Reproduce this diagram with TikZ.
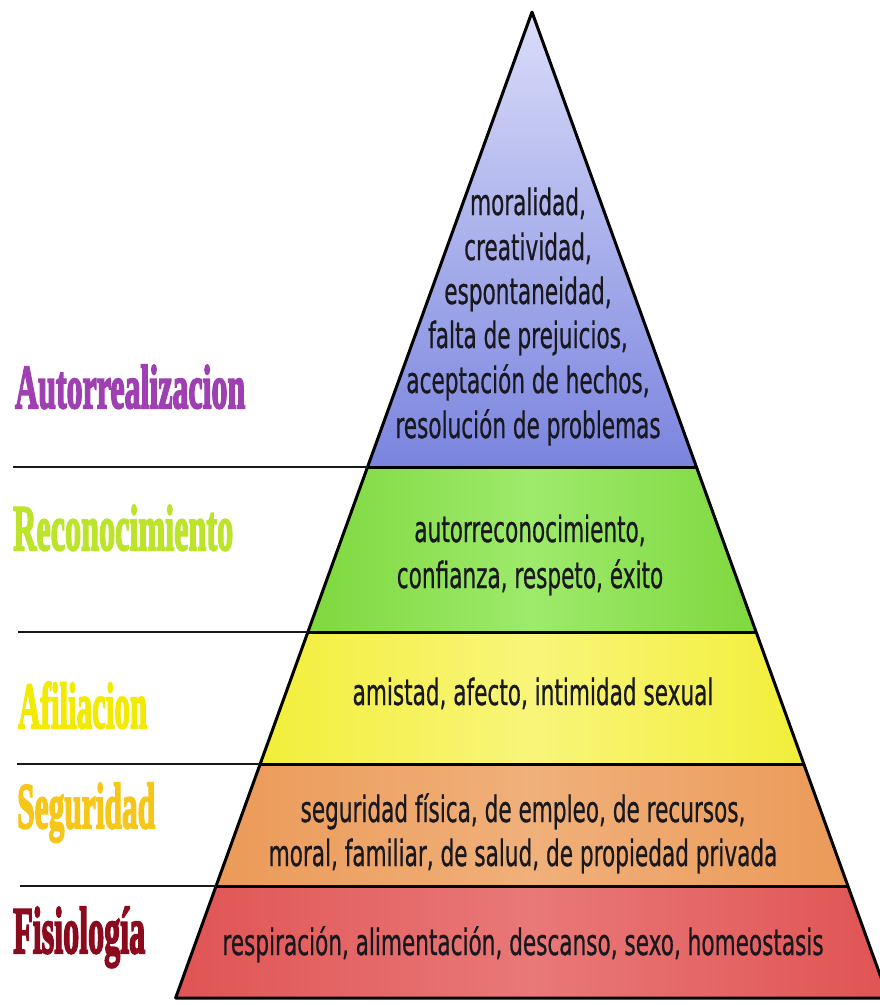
\documentclass[tikz,border=0pt]{standalone}
\usepackage{fontspec}
\usepackage{graphicx}
\newfontfamily\pyrfont[FakeBold=0.9]{DejaVu Sans}
\newfontfamily\lblfont[BoldFeatures={FakeBold=3.5}]{Liberation Serif}
\newcommand{\ptxt}[1]{\scalebox{0.6}[1]{\pyrfont\fontsize{36}{40}\selectfont #1}}
\newcommand{\lbltxt}[3]{\resizebox{#1}{#2}{\lblfont\bfseries #3}}
\definecolor{textdark}{HTML}{18181E}
\definecolor{cAuto}{HTML}{9E40B2}
\definecolor{cReco}{HTML}{BCE42A}
\definecolor{cAfil}{HTML}{F2EA00}
\definecolor{cSegu}{HTML}{F6C618}
\definecolor{cFisi}{HTML}{8A0A1E}
\definecolor{bluetop}{HTML}{DADDF9}
\definecolor{bluebot}{HTML}{7A84DE}
\definecolor{greenedge}{HTML}{7ED83E}
\definecolor{greenmid}{HTML}{9EEA6C}
\definecolor{yellowedge}{HTML}{F2EE3A}
\definecolor{yellowmid}{HTML}{F8F57A}
\definecolor{orangeedge}{HTML}{EB9A58}
\definecolor{orangemid}{HTML}{F0B07A}
\definecolor{rededge}{HTML}{E05454}
\definecolor{redmid}{HTML}{E97878}
\tikzset{
  ptext/.style={inner sep=0pt, anchor=base, text=textdark},
  lbl/.style={inner sep=0pt, anchor=base west},
  edge/.style={draw=black, line width=3pt, line join=round},
  sepline/.style={draw=black!90, line width=2.2pt},
}
\begin{document}
\begin{tikzpicture}[x=1pt,y=-1pt]
\clip (0,0) rectangle (880,1005);
\fill[white] (0,0) rectangle (880,1005);
% pyramid coordinates
\coordinate (A) at (532,12);
\coordinate (L1) at (367.5,467);  \coordinate (R1) at (696.5,467);
\coordinate (L2) at (307.9,632);  \coordinate (R2) at (756.1,632);
\coordinate (L3) at (260.2,764);  \coordinate (R3) at (803.8,764);
\coordinate (L4) at (216.0,886);  \coordinate (R4) at (848.0,886);
\coordinate (L5) at (175.6,998);  \coordinate (R5) at (888.4,998);
% layers
\shade[top color=bluetop, bottom color=bluebot] (A) -- (R1) -- (L1) -- cycle;
\shade[left color=greenedge, right color=greenedge, middle color=greenmid] (L1) -- (R1) -- (R2) -- (L2) -- cycle;
\shade[left color=yellowedge, right color=yellowedge, middle color=yellowmid] (L2) -- (R2) -- (R3) -- (L3) -- cycle;
\shade[left color=orangeedge, right color=orangeedge, middle color=orangemid] (L3) -- (R3) -- (R4) -- (L4) -- cycle;
\shade[left color=rededge, right color=rededge, middle color=redmid] (L4) -- (R4) -- (R5) -- (L5) -- cycle;
% outline and boundaries
\draw[edge] (A) -- (R5) -- (L5) -- cycle;
\draw[edge] (L1) -- (R1);
\draw[edge] (L2) -- (R2);
\draw[edge] (L3) -- (R3);
\draw[edge] (L4) -- (R4);
% left separator lines
\coordinate (s1) at (13,467);
\coordinate (s2) at (18,632);
\coordinate (s3) at (17,764);
\coordinate (s4) at (20,886);
\draw[sepline] (s1) -- (L1);
\draw[sepline] (s2) -- (L2);
\draw[sepline] (s3) -- (L3);
\draw[sepline] (s4) -- (L4);
% level labels
\node[lbl, text=cAuto] (lab1) at (15,408) {\lbltxt{230pt}{43pt}{Autorrealizacion}};
\node[lbl, text=cReco] (lab2) at (13,550) {\lbltxt{220pt}{45pt}{Reconocimiento}};
\node[lbl, text=cAfil] (lab3) at (18,728) {\lbltxt{129pt}{46pt}{Afiliacion}};
\node[lbl, text=cSegu] (lab4) at (17,828) {\lbltxt{138pt}{45pt}{Seguridad}};
\node[lbl, text=cFisi] (lab5) at (13,953) {\lbltxt{132pt}{46pt}{Fisiología}};
% pyramid texts
\node[ptext] (b1) at (528,215) {\ptxt{moralidad,}};
\node[ptext] (b2) at (528,260) {\ptxt{creatividad,}};
\node[ptext] (b3) at (528,304) {\ptxt{espontaneidad,}};
\node[ptext] (b4) at (528,348) {\ptxt{falta de prejuicios,}};
\node[ptext] (b5) at (528,393) {\ptxt{aceptación de hechos,}};
\node[ptext] (b6) at (528,438) {\ptxt{resolución de problemas}};
\node[ptext] (g1) at (530,542) {\ptxt{autorreconocimiento,}};
\node[ptext] (g2) at (530,588) {\ptxt{confianza, respeto, éxito}};
\node[ptext] (y1) at (533,705) {\ptxt{amistad, afecto, intimidad sexual}};
\node[ptext] (o1) at (523,822) {\ptxt{seguridad física, de empleo, de recursos,}};
\node[ptext] (o2) at (523,866) {\ptxt{moral, familiar, de salud, de propiedad privada}};
\node[ptext] (r1) at (523,955) {\ptxt{respiración, alimentación, descanso, sexo, homeostasis}};
\end{tikzpicture}
\end{document}
